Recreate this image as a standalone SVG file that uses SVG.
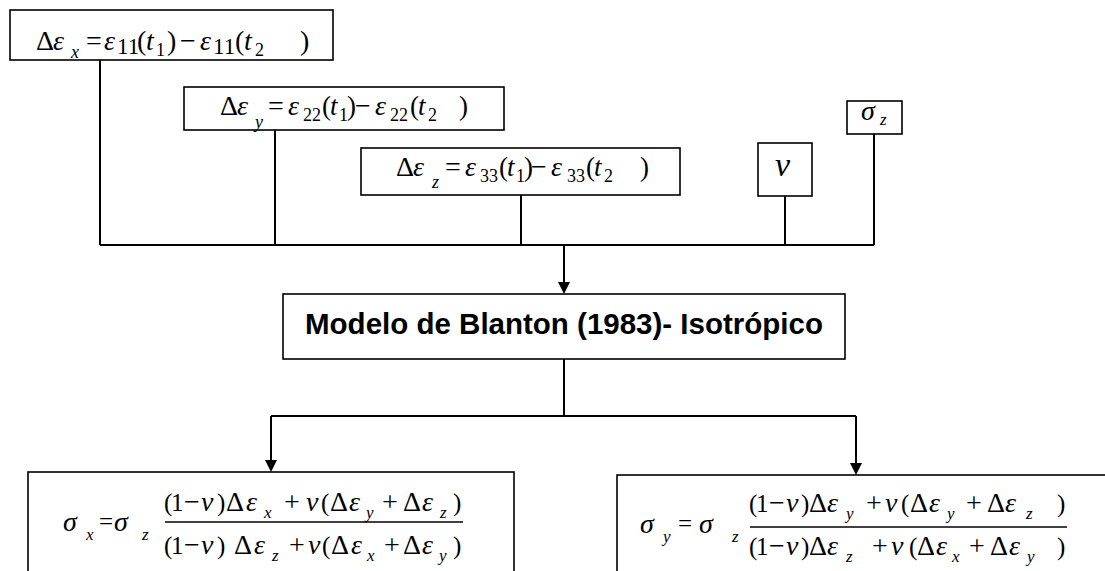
<svg xmlns="http://www.w3.org/2000/svg" width="1105" height="571" viewBox="0 0 1105 571">
<style>
.box{fill:#fff;stroke:#000;stroke-width:1.6}
.ln{fill:none;stroke:#000;stroke-width:2}
.m{font-family:"Liberation Serif","Times New Roman",serif;fill:#000}
.i{font-style:italic}
.b1{font-size:28px}
.b2{font-size:27px}
.b3{font-size:25px}
.g{font-size:28px}
.s{font-size:18px}
.s2{font-size:17px}
.ttl{font-family:"Liberation Sans",Arial,sans-serif;font-weight:bold;font-size:29.5px;text-anchor:middle}
</style>
<g id="connectors">
<path class="ln" d="M100,60 V245 M275,130 V245 M521,195 V245 M785,196 V245 M874,134 V245 M100,245 H874"/>
<path class="ln" d="M564,245 V283"/>
<path d="M558,282 L570,282 L564,294 Z" fill="#000"/>
<path class="ln" d="M564,359 V416 M271,416 H856"/>
<path class="ln" d="M271,416 V461"/>
<path d="M265,460 L277,460 L271,472 Z" fill="#000"/>
<path class="ln" d="M856,416 V464"/>
<path d="M850,463 L862,463 L856,475 Z" fill="#000"/>
</g>
<g id="n-dex">
<rect class="box" x="10" y="10" width="323" height="50"/>
<text class="m b1"><tspan class="g" x="36" y="50">Δ</tspan><tspan class="i g" x="53" y="50">ε</tspan><tspan class="i s" x="71" y="58">x</tspan><tspan class="g" x="86" y="50">=</tspan><tspan class="i g" x="104" y="50">ε</tspan><tspan x="117" y="54" style="font-size:23px">11</tspan><tspan x="137" y="50">(</tspan><tspan class="i" x="146" y="50">t</tspan><tspan class="s" x="156" y="56">1</tspan><tspan x="167" y="50">)</tspan><tspan class="g" x="180" y="50">−</tspan><tspan class="i g" x="200" y="50">ε</tspan><tspan x="213" y="54" style="font-size:23px">11</tspan><tspan x="235" y="50">(</tspan><tspan class="i" x="244" y="50">t</tspan><tspan class="s" x="255" y="56">2</tspan><tspan x="300" y="50">)</tspan></text>
</g>
<g id="n-dey">
<rect class="box" x="184" y="87" width="320" height="43"/>
<text class="m b2"><tspan class="g" x="220" y="115">Δ</tspan><tspan class="i g" x="237" y="115">ε</tspan><tspan class="i s" x="255" y="128">y</tspan><tspan class="g" x="268" y="115">=</tspan><tspan class="i g" x="288" y="115">ε</tspan><tspan class="s" x="303" y="121">22</tspan><tspan x="322" y="115">(</tspan><tspan class="i" x="330" y="115">t</tspan><tspan class="s" x="339" y="121">1</tspan><tspan x="347" y="115">)</tspan><tspan class="g" x="355" y="115">−</tspan><tspan class="i g" x="375" y="115">ε</tspan><tspan class="s" x="390" y="121">22</tspan><tspan x="410" y="115">(</tspan><tspan class="i" x="418" y="115">t</tspan><tspan class="s" x="428" y="121">2</tspan><tspan x="459" y="115">)</tspan></text>
</g>
<g id="n-dez">
<rect class="box" x="361" y="148" width="319" height="47"/>
<text class="m b2"><tspan class="g" x="396" y="176">Δ</tspan><tspan class="i g" x="413" y="176">ε</tspan><tspan class="i s" x="432" y="188">z</tspan><tspan class="g" x="445" y="176">=</tspan><tspan class="i g" x="465" y="176">ε</tspan><tspan class="s" x="480" y="182">33</tspan><tspan x="499" y="176">(</tspan><tspan class="i" x="507" y="176">t</tspan><tspan class="s" x="516" y="182">1</tspan><tspan x="524" y="176">)</tspan><tspan class="g" x="531" y="176">−</tspan><tspan class="i g" x="551" y="176">ε</tspan><tspan class="s" x="567" y="182">33</tspan><tspan x="586" y="176">(</tspan><tspan class="i" x="594" y="176">t</tspan><tspan class="s" x="604" y="182">2</tspan><tspan x="640" y="176">)</tspan></text>
</g>
<g id="n-nu">
<rect class="box" x="758" y="143" width="54" height="53"/>
<text class="m i" style="font-size:34px" x="775" y="176">ν</text>
</g>
<g id="n-sz">
<rect class="box" x="847" y="101" width="55" height="33"/>
<text class="m"><tspan class="i g" x="861" y="120">σ</tspan><tspan class="i s2" x="880" y="125">z</tspan></text>
</g>
<g id="n-model">
<rect class="box" x="283" y="294" width="562" height="65"/>
<text class="ttl" x="564" y="334">Modelo de Blanton (1983)- Isotrópico</text>
</g>
<g id="n-sx">
<rect class="box" x="28" y="472" width="486" height="110"/>
<text class="m b3"><tspan class="i g" x="63" y="531">σ</tspan><tspan class="i s2" x="86" y="540">x</tspan><tspan class="b3" x="99" y="530">=</tspan><tspan class="i g" x="114" y="531">σ</tspan><tspan class="i s2" x="142" y="540">z</tspan></text>
<text class="m b3"><tspan x="164" y="511">(</tspan><tspan x="171" y="511">1</tspan><tspan class="g" x="184" y="511">−</tspan><tspan class="i g" x="201" y="511">ν</tspan><tspan x="217" y="511">)</tspan><tspan class="g" x="226" y="511">Δ</tspan><tspan class="i g" x="246" y="511">ε</tspan><tspan class="i s2" x="264" y="518">x</tspan><tspan class="g" x="284" y="511">+</tspan><tspan class="i g" x="306" y="511">ν</tspan><tspan x="321" y="511">(</tspan><tspan class="g" x="330" y="511">Δ</tspan><tspan class="i g" x="349" y="511">ε</tspan><tspan class="i s2" x="366" y="518">y</tspan><tspan class="g" x="382" y="511">+</tspan><tspan class="g" x="403" y="511">Δ</tspan><tspan class="i g" x="422" y="511">ε</tspan><tspan class="i s2" x="440" y="518">z</tspan><tspan x="453" y="511">)</tspan></text>
<path d="M165,522 H463" stroke="#000" stroke-width="1.3"/>
<text class="m b3"><tspan x="164" y="554">(</tspan><tspan x="171" y="554">1</tspan><tspan class="g" x="184" y="554">−</tspan><tspan class="i g" x="201" y="554">ν</tspan><tspan x="217" y="554">)</tspan><tspan class="g" x="234" y="554">Δ</tspan><tspan class="i g" x="254" y="554">ε</tspan><tspan class="i s2" x="272" y="561">z</tspan><tspan class="g" x="289" y="554">+</tspan><tspan class="i g" x="308" y="554">ν</tspan><tspan x="322" y="554">(</tspan><tspan class="g" x="331" y="554">Δ</tspan><tspan class="i g" x="351" y="554">ε</tspan><tspan class="i s2" x="367" y="561">x</tspan><tspan class="g" x="384" y="554">+</tspan><tspan class="g" x="403" y="554">Δ</tspan><tspan class="i g" x="422" y="554">ε</tspan><tspan class="i s2" x="439" y="561">y</tspan><tspan x="453" y="554">)</tspan></text>
</g>
<g id="n-sy">
<rect class="box" x="617" y="475" width="500" height="110"/>
<text class="m b3"><tspan class="i g" x="640" y="533">σ</tspan><tspan class="i s2" x="663" y="542">y</tspan><tspan class="b3" x="678" y="532">=</tspan><tspan class="i g" x="699" y="533">σ</tspan><tspan class="i s2" x="732" y="542">z</tspan></text>
<text class="m b3"><tspan x="749" y="512">(</tspan><tspan x="756" y="512">1</tspan><tspan class="g" x="769" y="512">−</tspan><tspan class="i g" x="786" y="512">ν</tspan><tspan x="801" y="512">)</tspan><tspan class="g" x="809" y="512">Δ</tspan><tspan class="i g" x="827" y="512">ε</tspan><tspan class="i s2" x="846" y="519">y</tspan><tspan class="g" x="866" y="512">+</tspan><tspan class="i g" x="885" y="512">ν</tspan><tspan x="901" y="512">(</tspan><tspan class="g" x="910" y="512">Δ</tspan><tspan class="i g" x="929" y="512">ε</tspan><tspan class="i s2" x="947" y="519">y</tspan><tspan class="g" x="966" y="512">+</tspan><tspan class="g" x="987" y="512">Δ</tspan><tspan class="i g" x="1005" y="512">ε</tspan><tspan class="i s2" x="1026" y="519">z</tspan><tspan x="1057" y="512">)</tspan></text>
<path d="M750,527 H1067" stroke="#000" stroke-width="1.3"/>
<text class="m b3"><tspan x="749" y="555">(</tspan><tspan x="756" y="555">1</tspan><tspan class="g" x="769" y="555">−</tspan><tspan class="i g" x="786" y="555">ν</tspan><tspan x="801" y="555">)</tspan><tspan class="g" x="809" y="555">Δ</tspan><tspan class="i g" x="827" y="555">ε</tspan><tspan class="i s2" x="846" y="562">z</tspan><tspan class="g" x="872" y="555">+</tspan><tspan class="i g" x="891" y="555">ν</tspan><tspan x="909" y="555">(</tspan><tspan class="g" x="917" y="555">Δ</tspan><tspan class="i g" x="936" y="555">ε</tspan><tspan class="i s2" x="952" y="562">x</tspan><tspan class="g" x="969" y="555">+</tspan><tspan class="g" x="990" y="555">Δ</tspan><tspan class="i g" x="1009" y="555">ε</tspan><tspan class="i s2" x="1027" y="562">y</tspan><tspan x="1057" y="555">)</tspan></text>
</g>
</svg>
